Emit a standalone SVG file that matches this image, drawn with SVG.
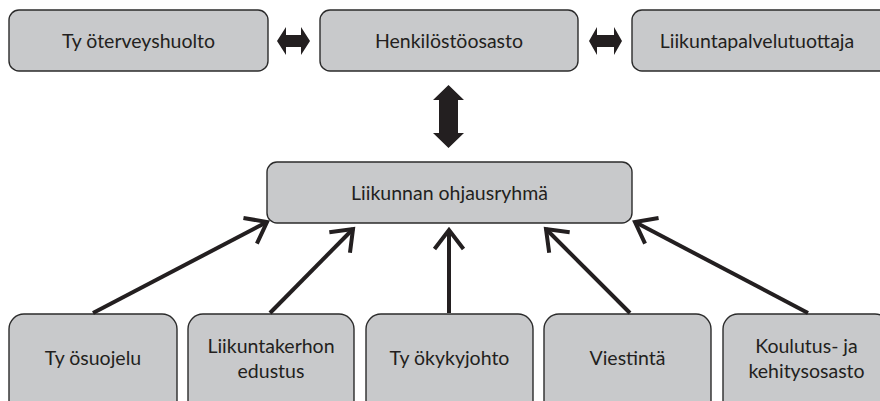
<svg xmlns="http://www.w3.org/2000/svg" width="880" height="401" viewBox="0 0 880 401">
<defs>
<style>
.box{fill:#c8c9cb;stroke:#2b2b2b;stroke-width:1.4}
.t{font-family:"Lato","Open Sans",sans-serif;font-size:19.5px;fill:#231f20;text-anchor:middle}
.conn{stroke:#231f20;stroke-width:4;fill:none}
.blk{fill:#231f20}
</style>
<marker id="open" markerUnits="userSpaceOnUse" markerWidth="40" markerHeight="40" refX="0" refY="0" viewBox="-25 -20 30 40" orient="auto" overflow="visible">
<path d="M-19,-14.5 L0,0 L-19,14.5" fill="none" stroke="#231f20" stroke-width="4" stroke-linejoin="miter"/>
</marker>
</defs>
<rect width="880" height="401" fill="#ffffff"/>
<g id="tyoterveyshuolto"><rect class="box" x="9" y="10" width="259" height="61" rx="10"/><text class="t" x="138.5" y="48">Ty öterveyshuolto</text></g>
<g id="henkilostoosasto"><rect class="box" x="320" y="10" width="258" height="61" rx="10"/><text class="t" x="449" y="48">Henkilöstöosasto</text></g>
<g id="liikuntapalvelutuottaja"><rect class="box" x="632" y="10" width="258" height="61" rx="10"/><text class="t" x="757" y="48">Liikuntapalvelutuottaja</text></g>
<g id="ohjausryhma"><rect class="box" x="267" y="162" width="365" height="61" rx="10"/><text class="t" x="449.5" y="200">Liikunnan ohjausryhmä</text></g>
<g id="tyosuojelu"><rect class="box" x="9" y="314" width="168" height="110" rx="15"/><text class="t" x="93" y="365">Ty ösuojelu</text></g>
<g id="liikuntakerho"><rect class="box" x="188" y="314" width="166" height="110" rx="15"/><text class="t" x="271" y="353">Liikuntakerhon</text><text class="t" x="271" y="378">edustus</text></g>
<g id="tyokykyjohto"><rect class="box" x="366" y="314" width="167" height="110" rx="15"/><text class="t" x="449.5" y="365">Ty ökykyjohto</text></g>
<g id="viestinta"><rect class="box" x="544" y="314" width="167" height="110" rx="15"/><text class="t" x="627.5" y="365">Viestintä</text></g>
<g id="koulutus"><rect class="box" x="723" y="314" width="167" height="110" rx="15"/><text class="t" x="806.5" y="353">Koulutus- ja</text><text class="t" x="806.5" y="378">kehitysosasto</text></g>
<g id="connectors">
<polygon class="blk" points="277,41 286,27 286,35 301,35 301,27 310,41 301,55 301,47 286,47 286,55"/>
<polygon class="blk" points="589,41 597,27 597,35 614,35 614,27 622,41 614,55 614,47 597,47 597,55"/>
<polygon class="blk" points="448.5,85 464,100 458,100 458,133 464,133 448.5,148 433,133 439,133 439,100 433,100"/>
<line class="conn" x1="93" y1="313" x2="267" y2="222" marker-end="url(#open)"/>
<line class="conn" x1="270" y1="313" x2="353" y2="229" marker-end="url(#open)"/>
<line class="conn" x1="449" y1="313" x2="449" y2="230" marker-end="url(#open)"/>
<line class="conn" x1="630" y1="313" x2="546" y2="229" marker-end="url(#open)"/>
<line class="conn" x1="808" y1="313" x2="635" y2="222" marker-end="url(#open)"/>
</g>
</svg>
